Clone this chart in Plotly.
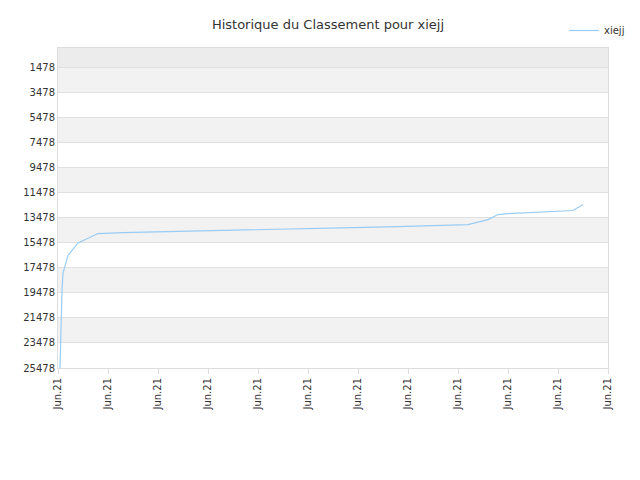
import plotly.graph_objects as go

# x in tick units (each tick labelled Jun.21), y = rank
x_vals = [0.04, 0.06, 0.08, 0.1, 0.2, 0.4, 0.8, 1.3, 2.1, 3.1, 4.0, 5.0, 5.9, 6.8, 7.7, 8.2, 8.6, 8.8, 9.0, 9.4, 9.8, 10.3, 10.5]
ranks = [25478, 21500, 19300, 17900, 16500, 15500, 14758, 14680, 14600, 14520, 14440, 14360, 14280, 14200, 14120, 14040, 13640, 13240, 13160, 13080, 13000, 12920, 12440]
tick_vals = list(range(12))
tick_text = ["Jun.21"] * 12
y_ticks = [1478 + 2000 * i for i in range(13)]
y_text = [str(v) for v in y_ticks]

fig = go.Figure()
fig.add_trace(go.Scatter(x=x_vals, y=ranks, mode="lines", name="xiejj",
                         line=dict(color="#99ccf5", width=1.2)))

shapes = [dict(type="rect", xref="paper", x0=0, x1=1, y0=-42, y1=1478,
               fillcolor="#ececec", line_width=0, layer="below")]
for lo in range(1478, 25478, 4000):
    shapes.append(dict(type="rect", xref="paper", x0=0, x1=1, y0=lo, y1=lo + 2000,
                       fillcolor="#f2f2f2", line_width=0, layer="below"))

fig.update_layout(
    width=640, height=480, plot_bgcolor="white", paper_bgcolor="white",
    title=dict(text="Historique du Classement pour xiejj", x=0.5, y=0.975,
               font=dict(size=13, color="#333", family="DejaVu Sans")),
    font=dict(family="DejaVu Sans", size=10, color="#333"),
    margin=dict(l=50, r=40, t=40, b=120, autoexpand=False),
    shapes=shapes,
    showlegend=True,
    legend=dict(orientation="h", x=1.04, xanchor="right", y=1.1, yanchor="top",
                font=dict(size=10)),
)
fig.update_xaxes(range=[0, 11], tickvals=tick_vals, ticktext=tick_text, tickangle=-90,
                 showgrid=False, showline=True, linecolor="#ddd", ticks="outside",
                 tickcolor="#ddd", mirror=True, zeroline=False, automargin=False)
fig.update_yaxes(range=[25478, -42], tickvals=y_ticks, ticktext=y_text, showgrid=True,
                 gridcolor="#e0e0e0", showline=True, linecolor="#ddd", mirror=True,
                 zeroline=False, automargin=False)

fig.write_html("out.html")
